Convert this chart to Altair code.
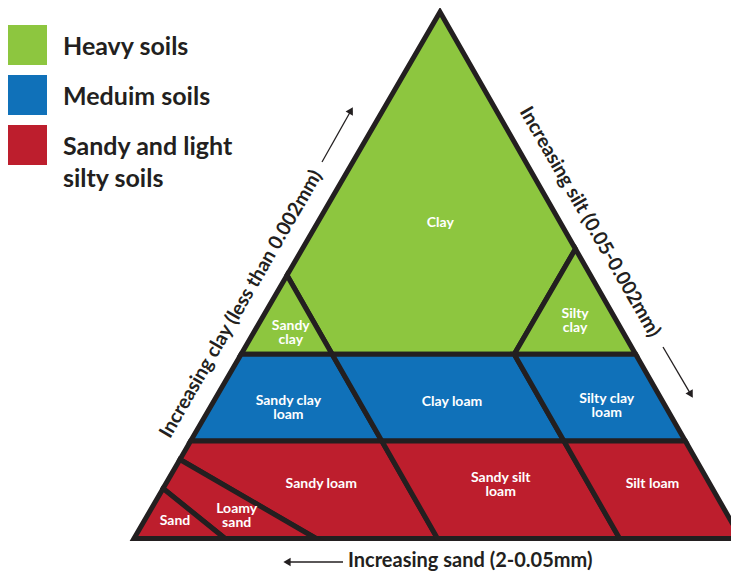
import math
import altair as alt
import pandas as pd

# ---------------- data ----------------
groups = ["Heavy soils", "Meduim soils", "Sandy and light silty soils"]
group_labels = ["Heavy soils", "Meduim soils", "Sandy and light\nsilty soils"]
group_colors = ["#8dc63f", "#1071b9", "#bd1e2d"]

regions = ["Clay", "Sandy clay", "Silty clay", "Sandy clay loam", "Clay loam",
           "Silty clay loam", "Sandy loam", "Sandy silt loam", "Silt loam",
           "Loamy sand", "Sand"]
region_labels = ["Clay", "Sandy\nclay", "Silty\nclay", "Sandy clay\nloam", "Clay loam",
                 "Silty clay\nloam", "Sandy loam", "Sandy silt\nloam", "Silt loam",
                 "Loamy\nsand", "Sand"]
region_group = [0, 0, 0, 1, 1, 1, 2, 2, 2, 2, 2]

# boundary vertices of each class: sand % and clay % (silt = 100 - sand - clay)
region_sand = [
    [50, 0, 0, 20, 50],
    [50, 50, 65],
    [20, 0, 0],
    [50, 65, 81.5, 50],
    [50, 20, 20, 50],
    [20, 0, 0, 20],
    [50, 81.5, 85, 70, 50],
    [50, 20, 20, 50],
    [20, 0, 0, 20],
    [85, 90.5, 85, 70],
    [90.5, 100, 85],
]
region_clay = [
    [50, 100, 55, 35, 35],
    [35, 50, 35],
    [35, 55, 35],
    [35, 35, 18.5, 18.5],
    [35, 35, 18.5, 18.5],
    [35, 35, 18.5, 18.5],
    [18.5, 18.5, 15, 0, 0],
    [18.5, 18.5, 0, 0],
    [18.5, 18.5, 0, 0],
    [15, 9.5, 0, 0],
    [9.5, 0, 0],
]

axis_titles = ["Increasing clay (less than 0.002mm)",
               "Increasing silt (0.05-0.002mm)",
               "Increasing sand (2-0.05mm)"]

# ---------------- layout ----------------
W, H = 723, 563
X0, Y0 = 8, 8
APEX = (440.0, 12.0)
BL = (134.0, 538.5)
BR = (741.0, 538.5)
INK = "#231f20"
FONT = "Lato"
LAB_SIZE, LAB_LH = 14, 14


def tern(sand, clay):
    silt = 100 - sand - clay
    x = (sand * BL[0] + silt * BR[0] + clay * APEX[0]) / 100.0
    y = (sand * BL[1] + silt * BR[1] + clay * APEX[1]) / 100.0
    return x, y


def centroid(pts):
    a = cx = cy = 0.0
    n = len(pts)
    for i in range(n):
        x1, y1 = pts[i]
        x2, y2 = pts[(i + 1) % n]
        c = x1 * y2 - x2 * y1
        a += c
        cx += (x1 + x2) * c
        cy += (y1 + y2) * c
    a *= 0.5
    return cx / (6 * a), cy / (6 * a)


label_nudge = {"Clay": (7, -3), "Sandy clay": (4, 5.5), "Silty clay": (0, 2),
               "Sandy clay loam": (2, 5), "Clay loam": (4, 4), "Silty clay loam": (7, 8),
               "Sandy loam": (3, -1.5), "Sandy silt loam": (0, -5), "Silt loam": (0, -6),
               "Loamy sand": (10, 8.5), "Sand": (1, -1)}

rows, lab_rows = [], []
for i, name in enumerate(regions):
    pts = [tern(s, c) for s, c in zip(region_sand[i], region_clay[i])]
    for k, (x, y) in enumerate(pts):
        rows.append({"region": name, "group": groups[region_group[i]], "order": k, "x": x, "y": y})
    cx, cy = centroid(pts)
    dx, dy = label_nudge.get(name, (0, 0))
    nlines = region_labels[i].count("\n") + 1
    lab_rows.append({"label": region_labels[i], "x": cx + dx,
                     "y": cy + dy - (nlines - 1) * LAB_LH / 2.0})

poly_df = pd.DataFrame(rows)
lab_df = pd.DataFrame(lab_rows)

xs = alt.Scale(domain=[X0, X0 + W], nice=False, zero=False)
ys = alt.Scale(domain=[Y0, Y0 + H], nice=False, zero=False, reverse=True)
X = lambda f: alt.X(f, type="quantitative", scale=xs, axis=None)
Y = lambda f: alt.Y(f, type="quantitative", scale=ys, axis=None)

polys = alt.Chart(poly_df).mark_line(
    interpolate="linear-closed", stroke=INK, strokeWidth=5,
    strokeJoin="miter", strokeMiterLimit=10, clip=True,
).encode(
    x=X("x"), y=Y("y"), order="order:Q", detail="region:N",
    fill=alt.Fill("group:N", scale=alt.Scale(domain=groups, range=group_colors), legend=None),
)

labels = alt.Chart(lab_df).mark_text(
    font=FONT, fontSize=LAB_SIZE, fontWeight="bold", color="white",
    align="center", baseline="middle", lineBreak="\n", lineHeight=LAB_LH,
).encode(x=X("x"), y=Y("y"), text="label:N")

# legend drawn from the group arrays
leg_df = pd.DataFrame({"group": groups, "label": group_labels,
                       "sy": [45 + 50 * i for i in range(3)],
                       "ty": [54.5 + 50 * i for i in range(3)]})
leg_df["sx"] = 27.0
leg_df["tx"] = 63.0
leg_sq = alt.Chart(leg_df).mark_square(size=1600, opacity=1).encode(
    x=X("sx"), y=Y("sy"),
    fill=alt.Fill("group:N", scale=alt.Scale(domain=groups, range=group_colors), legend=None),
)
leg_tx = alt.Chart(leg_df).mark_text(
    font=FONT, fontSize=25, fontWeight="bold", color=INK, align="left",
    baseline="alphabetic", lineBreak="\n", lineHeight=32,
).encode(x=X("tx"), y=Y("ty"), text="label:N")

# axis titles and arrows
t_left = alt.Chart(pd.DataFrame({"t": [axis_titles[0]], "x": [241.0], "y": [304.0]})).mark_text(
    font=FONT, fontSize=19.5, fontWeight="bold", color=INK, angle=300,
    align="center", baseline="middle").encode(x=X("x"), y=Y("y"), text="t:N")
t_right = alt.Chart(pd.DataFrame({"t": [axis_titles[1]], "x": [590.0], "y": [222.0]})).mark_text(
    font=FONT, fontSize=19.5, fontWeight="bold", color=INK, angle=60,
    align="center", baseline="middle").encode(x=X("x"), y=Y("y"), text="t:N")
t_bottom = alt.Chart(pd.DataFrame({"t": [axis_titles[2]], "x": [348.0], "y": [561.0]})).mark_text(
    font=FONT, fontSize=20, fontWeight="bold", color=INK,
    align="left", baseline="middle").encode(x=X("x"), y=Y("y"), text="t:N")

arrows = [((322, 162), (353, 107)), ((663, 347), (693, 398)), ((343, 562), (283, 562))]
ar_rows, hd_rows = [], []
for (x1, y1), (x2, y2) in arrows:
    L = math.hypot(x2 - x1, y2 - y1)
    ux, uy = (x2 - x1) / L, (y2 - y1) / L
    ar_rows.append({"x": x1, "y": y1, "x2": x2 - 4 * ux, "y2": y2 - 4 * uy})
    ang = math.degrees(math.atan2(ux, -uy)) % 360
    hd_rows.append({"x": x2 - 4 * ux, "y": y2 - 4 * uy, "a": ang})
ar = alt.Chart(pd.DataFrame(ar_rows)).mark_rule(color=INK, strokeWidth=1.3).encode(
    x=X("x"), y=Y("y"), x2="x2:Q", y2="y2:Q")
hd = alt.Chart(pd.DataFrame(hd_rows)).mark_point(
    shape="triangle-up", filled=True, color=INK, size=70, opacity=1).encode(
    x=X("x"), y=Y("y"), angle=alt.Angle("a:Q", scale=None))

chart = alt.layer(polys, labels, leg_sq, leg_tx, t_left, t_right, t_bottom, ar, hd).properties(
    width=W, height=H, padding=0, autosize=alt.AutoSizeParams(type="none"),
).configure_view(stroke=None)

chart.save("out.html", embed_options={"renderer": "svg", "actions": False})
